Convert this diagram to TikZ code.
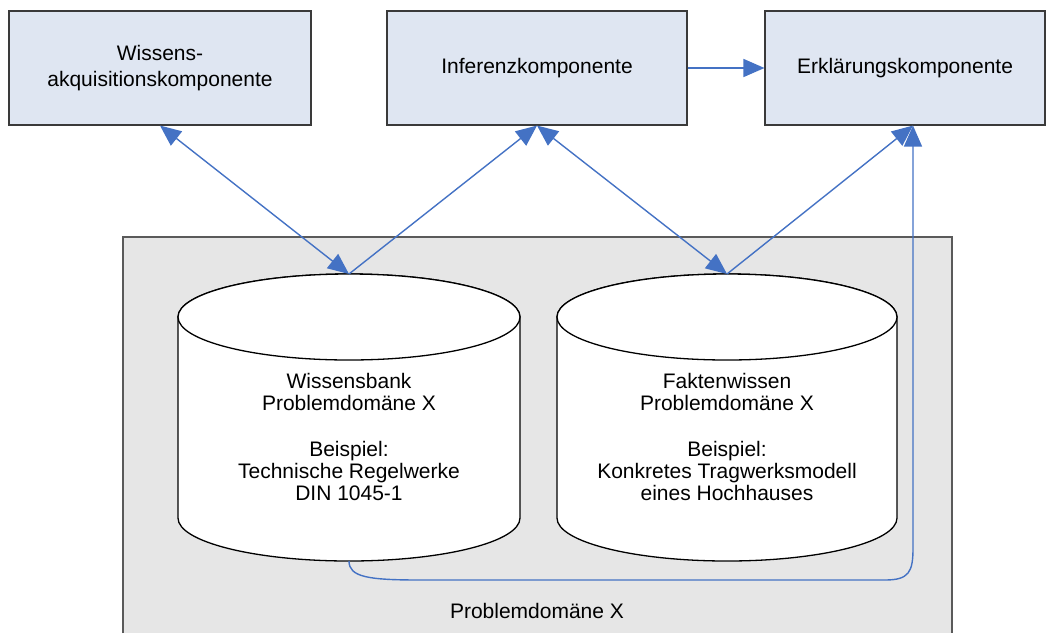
\documentclass[tikz,border=0pt]{standalone}
\usepackage{fontspec}
\setmainfont{Liberation Sans}
\usetikzlibrary{arrows.meta}
\definecolor{boxfill}{HTML}{DFE6F2}
\definecolor{boxline}{HTML}{3A3A3A}
\definecolor{domfill}{HTML}{E6E6E6}
\definecolor{domline}{HTML}{5A5A5A}
\definecolor{link}{HTML}{4472C4}
\begin{document}
\begin{tikzpicture}[x=1pt,y=-1pt,
  compbox/.style={draw=boxline,fill=boxfill,line width=1.1pt,inner sep=0pt,
    font=\fontsize{21}{26.5}\selectfont,align=center},
  dbtext/.style={inner sep=0pt,font=\fontsize{21}{22}\selectfont,align=center},
  drum/.style={draw=black,fill=white,line width=1.3pt},
  tip/.style={Triangle[length=21pt,width=18pt]},
  link/.style={draw=link,line width=1.4pt,-{Triangle[length=21pt,width=18pt]}},
  biarrow/.style={link,{Triangle[length=21pt,width=18pt]}-{Triangle[length=21pt,width=18pt]}}]
\useasboundingbox (0,0) rectangle (1054,633);

% problem domain frame (runs off the lower edge)
\fill[domfill] (123,237) rectangle (952,633);
\draw[domline,line width=1.1pt] (123,633) -- (123,237) -- (952,237) -- (952,633);
\node[inner sep=0pt,font=\fontsize{21}{24}\selectfont] (dom) at (537,611) {Problemdomäne X};

% components
\node[compbox,minimum width=302pt,minimum height=114pt] (wak) at (160,68)
  {Wissens-\\akquisitionskomponente};
\node[compbox,minimum width=300pt,minimum height=114pt] (inf) at (537,68)
  {Inferenzkomponente};
\node[compbox,minimum width=280pt,minimum height=114pt] (erk) at (905,68)
  {Erklärungskomponente};

% knowledge base drum
\draw[drum] (178,317) -- (178,518) arc[start angle=180,end angle=0,x radius=171,y radius=43]
  -- (520,317) arc[start angle=0,end angle=-180,x radius=171,y radius=43] -- cycle;
\draw[drum] (349,317) ellipse[x radius=171,y radius=43];
\coordinate (kbtop) at (349,274);
\coordinate (kbbot) at (349,561);
\node[dbtext] (kb) at (349,437)
  {Wissensbank\\Problemdomäne X\\[24pt]Beispiel:\\Technische Regelwerke\\DIN 1045-1};

% fact base drum
\draw[drum] (557,317) -- (557,518) arc[start angle=180,end angle=0,x radius=170,y radius=43]
  -- (897,317) arc[start angle=0,end angle=-180,x radius=170,y radius=43] -- cycle;
\draw[drum] (727,317) ellipse[x radius=170,y radius=43];
\coordinate (fbtop) at (727,274);
\node[dbtext] (fb) at (727,437)
  {Faktenwissen\\Problemdomäne X\\[24pt]Beispiel:\\Konkretes Tragwerksmodell\\eines Hochhauses};

% connectors
\coordinate (erkin) at ([xshift=8pt]erk.south);
\draw[biarrow] (wak.south) -- (kbtop);
\draw[link] (kbtop) -- (inf.south);
\draw[biarrow] (inf.south) -- (fbtop);
\draw[link] (fbtop) -- (erkin);
\draw[link] (inf.east) -- (erk.west);
\draw[link] (kbbot) .. controls (349,577) and (368,580) .. (420,580)
  -- (885,580) .. controls (909,580) and (913,572) .. (913,548) -- (erkin);
\end{tikzpicture}
\end{document}
